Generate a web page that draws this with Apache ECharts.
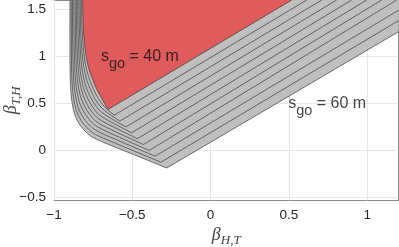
<!DOCTYPE html>
<html><head><meta charset="utf-8">
<script src="https://cdn.jsdelivr.net/npm/echarts@6/dist/echarts.min.js"></script>
<style>html,body{margin:0;padding:0;background:#fff}#c{width:399px;height:247px}</style>
</head><body><div id="c"></div>
<script>
// ---- data ----
const xTicks = [-1, -0.5, 0, 0.5, 1];
const yTicks = [-0.5, 0, 0.5, 1, 1.5];
const levels = [40, 42, 44, 46, 48, 50, 52, 54, 56, 58, 60];
// contour lines s_go (m): points from the top edge down the left branch, vertex, then up the right branch
const s40 = [[-0.817,1.6],[-0.812,1.281],[-0.796,1.014],[-0.775,0.855],[-0.751,0.748],[-0.725,0.642],[-0.693,0.546],[-0.674,0.487],[-0.653,0.436],[0.518,1.6]];
const s42 = [[-0.825,1.6],[-0.820,1.270],[-0.806,0.988],[-0.785,0.817],[-0.761,0.705],[-0.733,0.598],[-0.697,0.503],[-0.662,0.438],[-0.616,0.373],[0.614,1.6]];
const s44 = [[-0.833,1.6],[-0.829,1.259],[-0.816,0.961],[-0.796,0.780],[-0.771,0.663],[-0.741,0.554],[-0.701,0.460],[-0.649,0.388],[-0.579,0.311],[0.710,1.6]];
const s46 = [[-0.841,1.6],[-0.837,1.249],[-0.826,0.934],[-0.807,0.743],[-0.782,0.620],[-0.748,0.511],[-0.705,0.418],[-0.636,0.339],[-0.541,0.248],[0.805,1.6]];
const s48 = [[-0.849,1.6],[-0.846,1.238],[-0.836,0.908],[-0.818,0.705],[-0.792,0.578],[-0.756,0.467],[-0.709,0.375],[-0.623,0.289],[-0.504,0.186],[0.901,1.6]];
const s50 = [[-0.857,1.6],[-0.855,1.227],[-0.846,0.881],[-0.828,0.668],[-0.802,0.535],[-0.764,0.423],[-0.713,0.333],[-0.610,0.240],[-0.467,0.123],[0.997,1.6]];
const s52 = [[-0.865,1.6],[-0.863,1.217],[-0.856,0.855],[-0.839,0.631],[-0.812,0.492],[-0.771,0.380],[-0.716,0.290],[-0.598,0.190],[-0.429,0.061],[1.093,1.6]];
const s54 = [[-0.874,1.6],[-0.872,1.206],[-0.866,0.828],[-0.850,0.594],[-0.823,0.450],[-0.779,0.336],[-0.720,0.248],[-0.585,0.140],[-0.392,-0.002],[1.189,1.6]];
const s56 = [[-0.882,1.6],[-0.881,1.196],[-0.876,0.801],[-0.860,0.556],[-0.833,0.407],[-0.787,0.292],[-0.724,0.205],[-0.572,0.091],[-0.355,-0.064],[1.2,1.491]];
const s58 = [[-0.890,1.6],[-0.889,1.185],[-0.886,0.775],[-0.871,0.519],[-0.843,0.365],[-0.794,0.249],[-0.728,0.163],[-0.559,0.041],[-0.317,-0.127],[1.2,1.380]];
const s60 = [[-0.898,1.6],[-0.898,1.174],[-0.896,0.748],[-0.882,0.482],[-0.853,0.322],[-0.802,0.205],[-0.732,0.120],[-0.547,-0.008],[-0.280,-0.189],[1.2,1.262]];
const labelLevels = [40, 60];
const labelX = [-0.700, 0.496];
const labelY = [1.084, 0.585];

// ---- chart ----
const X0 = -1, X1 = 1.2, Y0 = -0.535, Y1 = 1.6;
const contours = [s40, s42, s44, s46, s48, s50, s52, s54, s56, s58, s60];
const drawOrder = [10, 9, 8, 7, 6, 5, 4, 3, 2, 1, 0]; // outer first, 40 m on top
const chart = echarts.init(document.getElementById('c'));
const fmt = v => String(v).replace('-', '\u2212');
const tickFont = {color: '#262626', fontSize: 13.5, fontFamily: 'Liberation Sans', formatter: fmt};
const axLine = {show: true, onZero: false, lineStyle: {color: '#8a8a8a', width: 1}};
const axTick = (vals) => ({show: true, inside: true, length: 3.5, customValues: vals, lineStyle: {color: '#555', width: 1}});
const nameRich = {
  b: {fontFamily: 'Liberation Serif', fontStyle: 'italic', fontSize: 18, color: '#444', lineHeight: 18, verticalAlign: 'top'},
  s: {fontFamily: 'Liberation Serif', fontStyle: 'italic', fontSize: 13, color: '#444', lineHeight: 13, padding: [8, 0, 0, 0], verticalAlign: 'top'}
};
// smooth path through the left branch (Catmull-Rom), straight right branch
function branchPath(c) {
  const n = c.length - 1; // last point = end of right branch
  let d = 'M' + c[0][0] + ' ' + c[0][1];
  for (let i = 0; i < n - 1; i++) {
    const p0 = c[Math.max(i - 1, 0)], p1 = c[i], p2 = c[i + 1], p3 = c[Math.min(i + 2, n - 1)];
    const c1 = [p1[0] + (p2[0] - p0[0]) / 6, p1[1] + (p2[1] - p0[1]) / 6];
    const c2 = [p2[0] - (p3[0] - p1[0]) / 6, p2[1] - (p3[1] - p1[1]) / 6];
    d += 'C' + c1[0] + ' ' + c1[1] + ' ' + c2[0] + ' ' + c2[1] + ' ' + p2[0] + ' ' + p2[1];
  }
  d += 'L' + c[n][0] + ' ' + c[n][1];
  return d;
}
const option = {
  animation: false,
  grid: {left: 54, right: 0.5, top: 0, bottom: 46.5, containLabel: false, outerBoundsMode: 'none'},
  xAxis: [
    {type: 'value', min: X0, max: X1, position: 'bottom', axisLine: axLine, axisTick: axTick(xTicks),
     axisLabel: Object.assign({customValues: xTicks, margin: 8}, tickFont), splitLine: {show: false},
     name: '{b|β}{s|H,T}', nameLocation: 'middle', nameGap: 26, nameMoveOverlap: false, nameTextStyle: {rich: nameRich}},
    {type: 'value', min: X0, max: X1, position: 'top', axisLine: axLine, axisTick: axTick(xTicks),
     axisLabel: {show: false}, splitLine: {show: false}}
  ],
  yAxis: [
    {type: 'value', min: Y0, max: Y1, position: 'left', axisLine: axLine, axisTick: axTick(yTicks),
     axisLabel: Object.assign({customValues: yTicks, margin: 8}, tickFont), splitLine: {show: false},
     name: '{b|β}{s|T,H}', nameLocation: 'middle', nameGap: 34, nameMoveOverlap: false, nameTextStyle: {rich: nameRich}},
    {type: 'value', min: Y0, max: Y1, position: 'right', axisLine: axLine, axisTick: axTick(yTicks),
     axisLabel: {show: false}, splitLine: {show: false}}
  ],
  series: [
    {type: 'line', z: 1, silent: true, data: [[X0, Y0]], showSymbol: false, lineStyle: {opacity: 0},
     markLine: {z: 1, silent: true, symbol: 'none', animation: false, label: {show: false},
       lineStyle: {color: '#e6e6e6', width: 1, type: 'solid'},
       emphasis: {disabled: true},
       data: xTicks.map(v => ({xAxis: v})).concat(yTicks.map(v => ({yAxis: v})))}},
    {type: 'custom', z: 3, clip: true, silent: true,
     data: drawOrder.map(k => [k, levels[k]]),
     renderItem: function (params, api) {
       const k = api.value(0);
       const pts = contours[k].map(p => api.coord(p));
       const corner = api.coord([X1, Y1]);
       const open = branchPath(pts);
       const closed = open + 'L' + corner[0] + ' ' + corner[1] + 'Z';
       return {type: 'group', children: [
         {type: 'path', shape: {pathData: closed}, style: {fill: k === 0 ? '#e05b5b' : '#bfbfbf', stroke: null}},
         {type: 'path', shape: {pathData: open}, style: {fill: null, stroke: '#3a3a3a', lineWidth: 0.7}}
       ]};
     }},
    {type: 'scatter', z: 6, silent: true, symbolSize: 0,
     data: labelLevels.map((v, i) => [labelX[i], labelY[i], v]),
     label: {show: true, position: [0, 0],
       formatter: p => '{a|s}{g|go}{a| = ' + p.value[2] + ' m}',
       rich: {
         a: {fontFamily: 'Liberation Sans', fontSize: 16, color: '#111', lineHeight: 17, verticalAlign: 'top'},
         g: {fontFamily: 'Liberation Sans', fontSize: 14.5, color: '#111', lineHeight: 15, padding: [8, 0, 0, 0], verticalAlign: 'top'}
       }}}
  ]
};
chart.setOption(option);
</script></body></html>
